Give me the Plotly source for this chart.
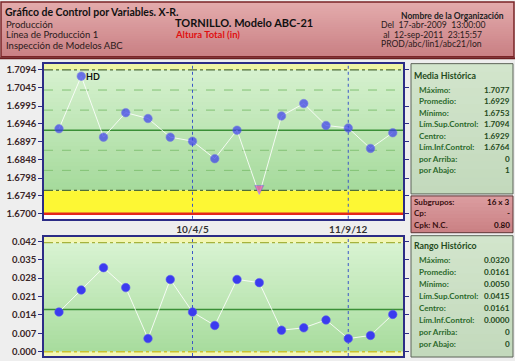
import plotly.graph_objects as go

# ---------------- data ----------------
subgroups = list(range(1, 17))
xbar_values = [1.6933, 1.7077, 1.6910, 1.6977, 1.6961, 1.6910, 1.6899, 1.6851,
               1.6929, 1.6753, 1.6968, 1.7002, 1.6942, 1.6935, 1.6879, 1.6922]
range_values = [0.0151, 0.0235, 0.0320, 0.0244, 0.0050, 0.0275, 0.0151, 0.0100,
                0.0275, 0.0263, 0.0082, 0.0091, 0.0121, 0.0050, 0.0062, 0.0142]
xbar_ucl, xbar_cl, xbar_lcl = 1.7094, 1.6929, 1.6764
xbar_lsl = 1.6700
range_ucl, range_cl, range_lcl = 0.0415, 0.0161, 0.0000
xbar_tick_labels = ["1.7094", "1.7045", "1.6995", "1.6946", "1.6897",
                    "1.6848", "1.6798", "1.6749", "1.6700"]
range_tick_labels = ["0.042", "0.035", "0.028", "0.021", "0.014", "0.007", "0.000"]
date_positions = [7, 14]
date_labels = ["10/4/5", "11/9/12"]
flag_subgroup = 2
flag_text = "HD"

header_left = ["Producción", "Línea de Producción 1", "Inspección de Modelos ABC"]
header_title = "Gráfico de Control por Variables. X-R."
product_title = "TORNILLO. Modelo ABC-21"
variable_title = "Altura Total (in)"
org_name = "Nombre de la Organización"
header_right = ["Del\u00a0\u00a017-abr-2009\u00a0\u00a013:00:00",
                "\u00a0al\u00a0\u00a012-sep-2011\u00a0\u00a023:15:57",
                "PROD/abc/lin1/abc21/lon"]

media_title = "Media Histórica"
media_labels = ["Máximo:", "Promedio:", "Mínimo:", "Lím.Sup.Control:", "Centro:",
                "Lím.Inf.Control:", "por Arriba:", "por Abajo:"]
media_values = ["1.7077", "1.6929", "1.6753", "1.7094", "1.6929", "1.6764", "0", "1"]
sub_labels = ["Subgrupos:", "Cp:", "Cpk: N.C."]
sub_values = ["16 x 3", "-", "0.80"]
rango_title = "Rango Histórico"
rango_labels = media_labels
rango_values = ["0.0320", "0.0161", "0.0050", "0.0415", "0.0161", "0.0000", "0", "0"]

# ---------------- layout helpers ----------------
W, H = 515, 361
FONT = "Lato"


def fx(x):
    return x / W


def fy(y):
    return 1 - y / H


def hex2rgb(c):
    c = c.lstrip("#")
    return tuple(int(c[i:i + 2], 16) for i in (0, 2, 4))


def lerp(c1, c2, t):
    a, b = hex2rgb(c1), hex2rgb(c2)
    return "rgb(%d,%d,%d)" % tuple(round(a[i] + (b[i] - a[i]) * t) for i in range(3))


shapes = []
annotations = []


def gradient(x0, x1, y0, y1, c_lo, c_hi, n, xref, yref):
    """vertical gradient from y0 (c_lo) to y1 (c_hi)"""
    step = (y1 - y0) / n
    for i in range(n):
        ya = y0 + step * i
        yb = y0 + step * (i + 1.35) if i < n - 1 else y1
        shapes.append(dict(type="rect", xref=xref, yref=yref, x0=x0, x1=x1,
                           y0=ya, y1=yb, line=dict(width=0),
                           fillcolor=lerp(c_lo, c_hi, (i + 0.5) / n), layer="below"))


def box(x0, y0, x1, y1, c_top, c_bot, border, n=16, width=1):
    gradient(fx(x0), fx(x1), fy(y1), fy(y0), c_bot, c_top, n, "paper", "paper")
    shapes.append(dict(type="rect", xref="paper", yref="paper", x0=fx(x0), x1=fx(x1),
                       y0=fy(y1), y1=fy(y0), line=dict(color=border, width=width),
                       fillcolor="rgba(0,0,0,0)", layer="above"))


def text(x, y, s, size=9, color="#222", bold=False, anchor="left"):
    annotations.append(dict(xref="paper", yref="paper", x=fx(x), y=fy(y), text=s,
                            showarrow=False, xanchor=anchor, yanchor="middle",
                            borderpad=0,
                            font=dict(family=FONT, size=size, color=color,
                                      weight="bold" if bold else "normal")))


def hline(y, color, width, dash, xref, yref):
    shapes.append(dict(type="line", xref=xref, yref=yref, x0=0, x1=1, y0=y, y1=y,
                       line=dict(color=color, width=width, dash=dash), layer="below"))


# ---------------- axes geometry ----------------
X_RANGE = [0.326, 16.46]
Y1_RANGE = [1.66864, 1.71112]
Y2_RANGE = [-0.00163, 0.04378]
XDOM = [fx(44), fx(403)]
Y1DOM = [fy(219), fy(63)]
Y2DOM = [fy(357), fy(237)]

# ---------------- header ----------------
box(1, 1, 514, 56, "#e4acad", "#c97f83", "#7b2427", n=24, width=1.5)
shapes.append(dict(type="line", xref="paper", yref="paper", x0=0, x1=1,
                   y0=fy(57.5), y1=fy(57.5), line=dict(color="#6e1c1f", width=2),
                   layer="above"))
text(4, 11.5, header_title, size=10.5, color="#111", bold=True)
for i, s in enumerate(header_left):
    text(5, 23.5 + i * 10.5, s, size=9.5, color="#2a1a1a")
text(174, 21.5, product_title, size=11, color="#111", bold=True)
text(174, 34, variable_title, size=9.5, color="#e01010", bold=True)
text(505, 15, org_name, size=8.5, color="#222", bold=True, anchor="right")
for i, s in enumerate(header_right):
    text(380, 24.5 + i * 9.4, s, size=8.6, color="#2a1a1a")

# ---------------- X-bar chart background ----------------
gradient(0, 1, xbar_lcl, xbar_ucl, "#a5da9b", "#d6f1cf", 30, "x domain", "y")
shapes.append(dict(type="rect", xref="x domain", yref="y", x0=0, x1=1,
                   y0=xbar_ucl, y1=Y1_RANGE[1], line=dict(width=0),
                   fillcolor="#eef4a4", layer="below"))
shapes.append(dict(type="rect", xref="x domain", yref="y", x0=0, x1=1,
                   y0=xbar_lsl, y1=xbar_lcl, line=dict(width=0),
                   fillcolor="#fdf734", layer="below"))
sig = (xbar_ucl - xbar_cl) / 3
for k in (1, 2):
    hline(xbar_cl + k * sig, "#82c274", 1, "dash", "x domain", "y")
    hline(xbar_cl - k * sig, "#82c274", 1, "dash", "x domain", "y")
hline(xbar_ucl, "#4f6d3a", 1.3, "dashdot", "x domain", "y")
hline(xbar_lcl, "#4f6d3a", 1.3, "dashdot", "x domain", "y")
hline(xbar_cl, "#3a8f36", 1.6, "solid", "x domain", "y")
hline(xbar_lsl, "#e4281c", 2.6, "solid", "x domain", "y")

# ---------------- Range chart background ----------------
gradient(0, 1, range_lcl, range_ucl, "#a7dc9d", "#d9f3d2", 26, "x domain", "y2")
shapes.append(dict(type="rect", xref="x domain", yref="y2", x0=0, x1=1,
                   y0=range_ucl, y1=Y2_RANGE[1], line=dict(width=0),
                   fillcolor="#f2f6b0", layer="below"))
shapes.append(dict(type="rect", xref="x domain", yref="y2", x0=0, x1=1,
                   y0=Y2_RANGE[0], y1=range_lcl, line=dict(width=0),
                   fillcolor="#f4f6b4", layer="below"))
hline(range_ucl, "#a5b23c", 1.3, "dashdot", "x domain", "y2")
hline(range_lcl, "#c9c230", 1.3, "dashdot", "x domain", "y2")
hline(range_cl, "#3a8f36", 1.6, "solid", "x domain", "y2")

# date separators
for xr, yr in (("x", "y domain"), ("x2", "y2 domain")):
    for d in date_positions:
        shapes.append(dict(type="line", xref=xr, yref=yr, x0=d, x1=d, y0=0, y1=1,
                           line=dict(color="#3a56c8", width=1, dash="dot"), layer="below"))

# ---------------- traces ----------------
fig = go.Figure()
normal_sym = ["circle" if v >= xbar_lcl else "arrow-down" for v in xbar_values]
normal_col = ["#3b3bef" if v >= xbar_lcl else "#e64aa6" for v in xbar_values]
normal_size = [8.5 if v >= xbar_lcl else 9 for v in xbar_values]
fig.add_trace(go.Scatter(
    x=subgroups, y=xbar_values, mode="lines+markers", xaxis="x", yaxis="y",
    line=dict(color="rgba(255,255,255,0.85)", width=1),
    marker=dict(symbol=normal_sym, color=normal_col, size=normal_size,
                line=dict(color="#5a5af0", width=0.6)),
    showlegend=False, hoverinfo="x+y"))
fig.add_trace(go.Scatter(
    x=subgroups, y=range_values, mode="lines+markers", xaxis="x2", yaxis="y2",
    line=dict(color="rgba(255,255,255,0.85)", width=1),
    marker=dict(symbol="circle", color="#3b3bef", size=8.5,
                line=dict(color="#5a5af0", width=0.6)),
    showlegend=False, hoverinfo="x+y"))

annotations.append(dict(xref="x", yref="y", x=flag_subgroup,
                        y=xbar_values[flag_subgroup - 1], text=flag_text,
                        showarrow=False, xanchor="left", yanchor="middle", xshift=3,
                        font=dict(family=FONT, size=9, color="#111", weight="bold")))

# ---------------- right panel ----------------
PX0, PX1 = 411, 513
PF = 8.1
box(PX0, 63, PX1, 194, "#d2e5cc", "#c3d9bc", "#5c6458", n=16)
text(412.5, 75, media_title, size=8.8, color="#1f4a20", bold=True)
for i, (l, v) in enumerate(zip(media_labels, media_values)):
    yy = 89 + i * 11.6
    text(417.5, yy, l, size=PF, color="#2c6a2c", bold=True)
    text(511, yy, v, size=PF, color="#1f4a20", bold=True, anchor="right")

box(PX0, 196, PX1, 233, "#dc9ea0", "#c97f83", "#5c3434", n=10)
for i, (l, v) in enumerate(zip(sub_labels, sub_values)):
    yy = 202 + i * 11.5
    text(412.5, yy, l, size=PF, color="#3a1010", bold=True)
    text(511, yy, v, size=PF, color="#2a0a0a", bold=True, anchor="right")

box(PX0, 236, PX1, 358, "#d2e5cc", "#c3d9bc", "#5c6458", n=16)
text(412.5, 246, rango_title, size=8.8, color="#1f4a20", bold=True)
for i, (l, v) in enumerate(zip(rango_labels, rango_values)):
    yy = 260 + i * 12.2
    text(417.5, yy, l, size=PF, color="#2c6a2c", bold=True)
    text(511, yy, v, size=PF, color="#1f4a20", bold=True, anchor="right")

# ---------------- axes ----------------
axis_line = dict(showline=True, mirror=True, linecolor="#2c2c86", linewidth=1.6,
                 zeroline=False, showgrid=False)
tickfont = dict(family=FONT, size=9.5, color="#3a2628", weight="bold")

fig.update_layout(
    width=W, height=H, margin=dict(l=0, r=0, t=0, b=0),
    paper_bgcolor="#eeeeee", plot_bgcolor="#ffffff",
    shapes=shapes, annotations=annotations, showlegend=False,
    xaxis=dict(domain=XDOM, range=X_RANGE, anchor="y", tickvals=date_positions,
               ticktext=date_labels, ticks="", tickfont=dict(family=FONT, size=10,
               color="#333", weight="bold"), **axis_line),
    yaxis=dict(domain=Y1DOM, range=Y1_RANGE, anchor="x",
               tickvals=[float(t) for t in xbar_tick_labels], ticktext=xbar_tick_labels,
               ticks="outside", ticklen=4, tickcolor="#2c2c86", tickfont=tickfont,
               **axis_line),
    xaxis2=dict(domain=XDOM, range=X_RANGE, anchor="y2", tickvals=date_positions,
                showticklabels=False, ticks="", **axis_line),
    yaxis2=dict(domain=Y2DOM, range=Y2_RANGE, anchor="x2",
                tickvals=[float(t) for t in range_tick_labels], ticktext=range_tick_labels,
                ticks="outside", ticklen=4, tickcolor="#2c2c86", tickfont=tickfont,
                **axis_line),
)
fig.update_yaxes(mirror="ticks")

fig.write_html("out.html", config={"displayModeBar": False},
               post_script="document.body.style.margin='0px';"
                           "document.body.style.overflow='hidden';")
